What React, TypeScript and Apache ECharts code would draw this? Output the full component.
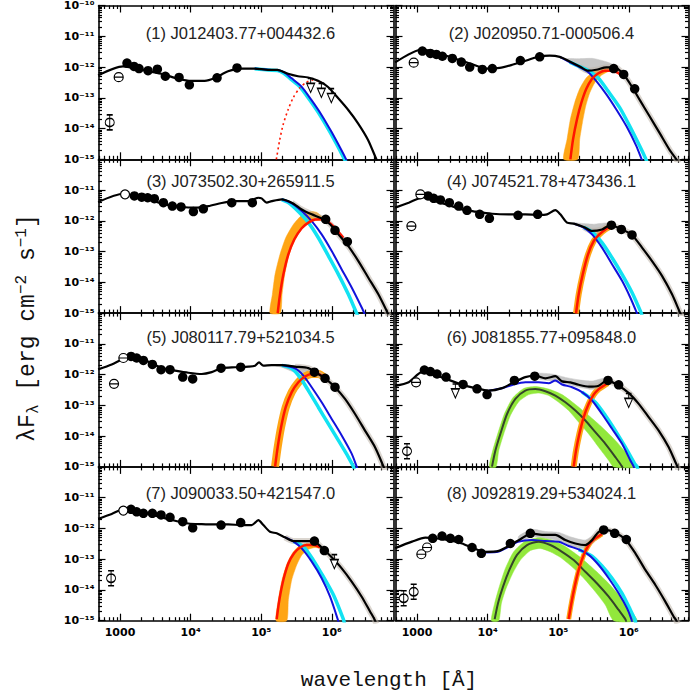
import { useEffect, useRef } from 'react';
import * as echarts from 'echarts';

// ---------- tick labels / titles ----------
const X_MAJOR = [3, 4, 5, 6];
const Y_MAJOR_TOP = [-15, -14, -13, -12, -11, -10];
const Y_MAJOR_REST = [-15, -14, -13, -12, -11];
const TITLES = [
  '(1) J012403.77+004432.6', '(2) J020950.71-000506.4',
  '(3) J073502.30+265911.5', '(4) J074521.78+473436.1',
  '(5) J080117.79+521034.5', '(6) J081855.77+095848.0',
  '(7) J090033.50+421547.0', '(8) J092819.29+534024.1',
];

// ---------- data: [log10 wavelength (Å), log10 λFλ] ----------
// Panel 1
const p1Total = [[2.69,-12.27],[3.042,-11.98],[3.349,-12.11],[3.585,-12.22],[3.822,-12.38],[4.010,-12.45],[4.199,-12.45],[4.341,-12.36],[4.530,-12.14],[4.719,-12.05],[4.907,-12.05],[5.096,-12.09],[5.229,-12.09],[5.380,-12.22],[5.521,-12.30],[5.663,-12.34],[5.805,-12.45],[5.946,-12.65],[6.088,-13.01],[6.230,-13.39],[6.371,-13.83],[6.513,-14.37],[6.631,-15.0],[6.678,-15.24]];
const p1Blue = [[4.907,-12.05],[5.096,-12.09],[5.229,-12.10],[5.33,-12.18],[5.427,-12.36],[5.568,-12.63],[5.710,-13.07],[5.852,-13.55],[5.993,-14.10],[6.135,-14.70],[6.206,-15.02],[6.22,-15.1]];
const p1Cyan = [[4.907,-12.06],[5.096,-12.10],[5.229,-12.11],[5.32,-12.20],[5.407,-12.37],[5.548,-12.64],[5.690,-13.08],[5.832,-13.56],[5.973,-14.11],[6.115,-14.71],[6.186,-15.03],[6.2,-15.1]];
const p1RedDotted = [[5.214,-15.0],[5.262,-14.37],[5.309,-13.88],[5.380,-13.39],[5.450,-13.01],[5.545,-12.68],[5.639,-12.50],[5.734,-12.42],[5.828,-12.47],[5.899,-12.59]];
const p1Dots = [[3.099,-11.87],[3.198,-11.98],[3.269,-12.05],[3.397,-12.12],[3.529,-12.07],[3.642,-12.30],[3.836,-12.34],[3.982,-12.58],[4.374,-12.35],[4.657,-12.03]];
const p1Theta = [[2.981,-12.33]];
const p1Phi = [[2.854,-13.80]];
const p1Limits = [[5.70,-12.60],[5.852,-12.76],[5.993,-12.93]];

// Panel 2
const p2Total = [[2.69,-11.85],[3.076,-11.43],[3.321,-11.57],[3.557,-11.74],[3.793,-11.92],[3.982,-12.05],[4.171,-12.03],[4.360,-11.92],[4.549,-11.79],[4.737,-11.65],[4.879,-11.63],[5.021,-11.67],[5.162,-11.82],[5.304,-11.98],[5.422,-12.12],[5.540,-12.09],[5.682,-12.01],[5.800,-12.01],[5.918,-12.22],[6.036,-12.61],[6.154,-13.07],[6.296,-13.61],[6.437,-14.15],[6.579,-14.70],[6.673,-15.0],[6.72,-15.2]];
const p2Blue = [[5.021,-11.67],[5.162,-11.84],[5.304,-12.00],[5.422,-12.16],[5.540,-12.46],[5.682,-12.89],[5.823,-13.38],[5.965,-13.92],[6.107,-14.57],[6.178,-14.98],[6.2,-15.1]];
const p2Cyan = [[5.162,-11.84],[5.304,-11.99],[5.422,-12.11],[5.564,-12.35],[5.705,-12.78],[5.871,-13.32],[6.012,-13.92],[6.154,-14.57],[6.239,-14.98],[6.26,-15.1]];
const p2Red = [[5.172,-15.0],[5.210,-14.35],[5.266,-13.70],[5.328,-13.16],[5.398,-12.71],[5.479,-12.38],[5.564,-12.21],[5.658,-12.12],[5.753,-12.12],[5.847,-12.19],[5.94,-12.35]];
const p2OrangeA = [[5.077,-15],[5.125,-14.35],[5.172,-13.70],[5.233,-13.16],[5.304,-12.71],[5.398,-12.35],[5.517,-12.13],[5.658,-12.02],[5.800,-12.02],[5.871,-12.13]];
const p2OrangeB = [[5.729,-12.13],[5.611,-12.27],[5.517,-12.51],[5.446,-12.84],[5.389,-13.27],[5.342,-13.81],[5.304,-14.35],[5.276,-15]];
const p2GrayA = [[5.115,-11.73],[5.304,-11.73],[5.493,-11.72],[5.682,-11.83],[5.823,-11.97]];
const p2GrayB = [[5.823,-12.08],[5.682,-12.08],[5.540,-12.19],[5.422,-12.21],[5.304,-12.05],[5.162,-11.86]];
const p2Dots = [[3.076,-11.48],[3.189,-11.56],[3.274,-11.59],[3.359,-11.65],[3.500,-11.72],[3.628,-11.84],[3.746,-12.00],[3.925,-12.08],[4.067,-12.05],[4.464,-11.79],[4.737,-11.67],[5.786,-12.05],[5.927,-12.24],[6.083,-12.71]];
const p2Theta = [[2.953,-11.86]];

// Panel 3
const p3Total = [[2.69,-11.39],[3.047,-11.12],[3.212,-11.19],[3.449,-11.34],[3.685,-11.49],[3.873,-11.55],[4.062,-11.57],[4.251,-11.52],[4.440,-11.42],[4.629,-11.36],[4.818,-11.36],[4.959,-11.25],[5.005,-11.27],[5.077,-11.41],[5.148,-11.36],[5.290,-11.30],[5.432,-11.41],[5.573,-11.63],[5.715,-11.79],[5.856,-11.92],[5.975,-12.11],[6.093,-12.44],[6.234,-12.82],[6.376,-13.31],[6.517,-13.85],[6.659,-14.39],[6.777,-14.93],[6.82,-15.15]];
const p3Blue = [[5.290,-11.30],[5.432,-11.43],[5.573,-11.68],[5.715,-12.01],[5.856,-12.44],[5.998,-12.98],[6.140,-13.58],[6.281,-14.17],[6.423,-14.82],[6.461,-15.01],[6.48,-15.1]];
const p3Cyan = [[5.290,-11.31],[5.384,-11.41],[5.526,-11.70],[5.668,-12.06],[5.809,-12.55],[5.951,-13.14],[6.093,-13.74],[6.234,-14.39],[6.352,-15.01],[6.37,-15.1]];
const p3Red = [[5.233,-15.0],[5.266,-14.39],[5.314,-13.74],[5.384,-13.09],[5.469,-12.60],[5.573,-12.24],[5.668,-12.06],[5.762,-11.96],[5.856,-11.95],[5.951,-12.04],[6.045,-12.24],[6.163,-12.55]];
const p3OrangeA = [[5.125,-15],[5.158,-14.39],[5.196,-13.74],[5.266,-13.09],[5.347,-12.55],[5.455,-12.12],[5.573,-11.82],[5.691,-11.70],[5.786,-11.73],[5.856,-11.86]];
const p3OrangeB = [[5.904,-11.97],[5.762,-11.99],[5.668,-12.09],[5.573,-12.27],[5.479,-12.62],[5.394,-13.10],[5.333,-13.74],[5.295,-14.39],[5.27,-15]];
const p3GrayA = [[5.337,-11.31],[5.479,-11.44],[5.620,-11.66],[5.762,-11.82],[5.904,-11.96]];
const p3GrayB = [[5.904,-12.02],[5.762,-11.93],[5.620,-11.80],[5.479,-11.55],[5.337,-11.36]];
const p3Dots = [[3.203,-11.19],[3.307,-11.23],[3.392,-11.25],[3.486,-11.28],[3.614,-11.41],[3.741,-11.52],[3.864,-11.55],[4.039,-11.70],[4.180,-11.61],[4.582,-11.41],[4.874,-11.41],[5.913,-11.95],[6.045,-12.31],[6.220,-12.68]];
const p3Open = [[3.071,-11.14]];

// Panel 4
const p4Total = [[2.69,-11.57],[2.882,-11.41],[3.094,-11.23],[3.260,-11.36],[3.449,-11.49],[3.637,-11.63],[3.826,-11.70],[4.062,-11.77],[4.298,-11.79],[4.534,-11.79],[4.723,-11.81],[4.841,-11.79],[4.959,-11.65],[5.030,-11.79],[5.125,-12.06],[5.219,-12.09],[5.361,-12.20],[5.479,-12.33],[5.620,-12.28],[5.738,-12.14],[5.904,-12.28],[6.045,-12.46],[6.187,-12.87],[6.329,-13.31],[6.470,-13.79],[6.612,-14.39],[6.730,-15.01],[6.76,-15.15]];
const p4Blue = [[5.219,-12.09],[5.361,-12.22],[5.479,-12.44],[5.620,-12.87],[5.762,-13.41],[5.904,-13.95],[6.022,-14.50],[6.116,-15.01],[6.13,-15.1]];
const p4Cyan = [[5.361,-12.21],[5.479,-12.36],[5.620,-12.71],[5.762,-13.20],[5.904,-13.74],[6.045,-14.33],[6.178,-15.01],[6.19,-15.1]];
const p4Red = [[5.252,-15.01],[5.290,-14.39],[5.347,-13.74],[5.422,-13.09],[5.502,-12.66],[5.583,-12.44],[5.668,-12.28],[5.74,-12.18]];
const p4GrayA = [[5.219,-12.06],[5.361,-12.09],[5.502,-12.11],[5.668,-12.07],[5.738,-12.10]];
const p4GrayB = [[5.738,-12.16],[5.620,-12.33],[5.479,-12.39],[5.361,-12.24],[5.219,-12.11]];
const p4Dots = [[3.156,-11.19],[3.236,-11.27],[3.331,-11.32],[3.458,-11.41],[3.590,-11.52],[3.708,-11.66],[3.888,-11.79],[4.025,-11.92],[4.431,-11.82],[4.709,-11.79],[5.753,-12.14],[5.894,-12.28],[6.045,-12.46]];
const p4Theta = [[3.047,-11.14],[2.920,-12.17]];

// Panel 5
const p5Total = [[2.69,-11.83],[2.882,-11.67],[3.047,-11.49],[3.212,-11.44],[3.401,-11.58],[3.590,-11.79],[3.779,-11.87],[3.968,-11.94],[4.157,-11.98],[4.298,-11.92],[4.440,-11.79],[4.629,-11.76],[4.818,-11.74],[4.912,-11.71],[4.969,-11.60],[5.030,-11.71],[5.148,-11.69],[5.290,-11.69],[5.479,-11.74],[5.668,-11.79],[5.762,-11.92],[5.904,-12.12],[6.045,-12.41],[6.187,-12.79],[6.329,-13.28],[6.470,-13.82],[6.612,-14.36],[6.716,-14.90],[6.754,-15.11]];
const p5Blue = [[5.290,-11.69],[5.479,-11.80],[5.597,-12.03],[5.715,-12.41],[5.856,-12.90],[5.998,-13.44],[6.140,-13.98],[6.281,-14.57],[6.352,-14.99],[6.37,-15.1]];
const p5Cyan = [[5.290,-11.70],[5.432,-11.80],[5.550,-12.09],[5.668,-12.52],[5.809,-13.06],[5.951,-13.60],[6.093,-14.14],[6.234,-14.68],[6.305,-14.99],[6.32,-15.1]];
const p5Red = [[5.196,-14.99],[5.233,-14.36],[5.281,-13.71],[5.347,-13.06],[5.432,-12.57],[5.526,-12.25],[5.620,-12.06],[5.715,-11.98],[5.809,-11.98],[5.904,-12.12]];
const p5GrayA = [[5.196,-11.67],[5.384,-11.70],[5.573,-11.76],[5.715,-11.82]];
const p5GrayB = [[5.715,-11.98],[5.573,-11.98],[5.432,-11.89],[5.290,-11.76],[5.196,-11.71]];
const p5Dots = [[3.156,-11.41],[3.236,-11.46],[3.331,-11.54],[3.458,-11.67],[3.581,-11.84],[3.708,-11.84],[3.888,-12.08],[4.029,-12.14],[4.431,-11.79],[4.709,-11.76],[5.753,-11.92],[5.904,-12.12],[6.045,-12.41]];
const p5Theta = [[3.047,-11.46],[2.915,-12.30]];

// Panel 6
const p6Total = [[2.69,-12.37],[2.882,-12.25],[3.071,-11.92],[3.260,-12.03],[3.449,-12.17],[3.637,-12.33],[3.826,-12.44],[4.015,-12.52],[4.204,-12.44],[4.369,-12.25],[4.534,-12.08],[4.676,-12.03],[4.818,-12.12],[4.959,-12.05],[5.054,-12.22],[5.172,-12.25],[5.290,-12.33],[5.432,-12.39],[5.573,-12.36],[5.691,-12.19],[5.856,-12.36],[6.000,-12.60],[6.140,-12.95],[6.281,-13.38],[6.423,-13.82],[6.565,-14.36],[6.659,-14.84],[6.687,-14.99],[6.70,-15.1]];
const p6Blue = [[4.015,-12.52],[4.204,-12.44],[4.369,-12.32],[4.534,-12.25],[4.723,-12.25],[4.865,-12.28],[4.959,-12.19],[5.054,-12.32],[5.196,-12.41],[5.337,-12.57],[5.479,-12.84],[5.620,-13.28],[5.762,-13.76],[5.904,-14.25],[6.022,-14.79],[6.069,-14.99],[6.08,-15.1]];
const p6Cyan = [[5.337,-12.57],[5.526,-12.90],[5.668,-13.33],[5.809,-13.82],[5.951,-14.36],[6.083,-14.90],[6.116,-14.99],[6.13,-15.1]];
const p6GreenMid = [[4.062,-14.99],[4.110,-14.47],[4.180,-13.93],[4.275,-13.28],[4.393,-12.79],[4.534,-12.52],[4.676,-12.47],[4.818,-12.54],[4.959,-12.68],[5.101,-12.90],[5.243,-13.17],[5.384,-13.49],[5.526,-13.87],[5.668,-14.25],[5.809,-14.68],[5.904,-14.99],[5.92,-15.1]];
const p6GreenA = [[4.025,-15],[4.072,-14.47],[4.142,-13.93],[4.237,-13.28],[4.355,-12.76],[4.511,-12.45],[4.676,-12.39],[4.865,-12.47],[5.054,-12.65],[5.243,-12.97],[5.432,-13.33],[5.620,-13.71],[5.809,-14.14],[5.975,-14.58],[6.116,-15]];
const p6GreenB = [[5.786,-15],[5.715,-14.79],[5.573,-14.36],[5.432,-13.93],[5.290,-13.55],[5.148,-13.17],[5.007,-12.90],[4.865,-12.68],[4.723,-12.60],[4.582,-12.65],[4.440,-12.88],[4.322,-13.33],[4.228,-13.93],[4.157,-14.47],[4.119,-15]];
const p6Red = [[5.219,-14.99],[5.252,-14.47],[5.299,-13.93],[5.361,-13.38],[5.432,-12.95],[5.502,-12.65],[5.573,-12.47],[5.644,-12.36],[5.70,-12.28]];
const p6GrayA = [[4.676,-11.96],[4.912,-11.98],[5.101,-12.09],[5.290,-12.17],[5.479,-12.21],[5.668,-12.11]];
const p6GrayB = [[5.668,-12.32],[5.479,-12.47],[5.290,-12.41],[5.101,-12.30],[4.912,-12.21],[4.676,-12.12]];
const p6Dots = [[3.104,-11.85],[3.189,-11.90],[3.283,-11.98],[3.411,-12.08],[3.652,-12.32],[3.850,-12.46],[3.992,-12.65],[4.379,-12.19],[4.667,-12.05],[5.705,-12.19],[5.856,-12.33]];
const p6Theta = [[2.986,-12.25]];
const p6Limits = [[3.543,-12.53],[5.998,-12.84]];
const p6Phi = [[2.858,-14.49]];

// Panel 7
const p7Total = [[2.69,-11.69],[2.882,-11.53],[3.047,-11.38],[3.212,-11.40],[3.401,-11.51],[3.590,-11.64],[3.779,-11.75],[3.968,-11.84],[4.157,-11.86],[4.346,-11.87],[4.534,-11.87],[4.723,-11.89],[4.865,-11.89],[4.959,-11.73],[5.030,-11.89],[5.125,-12.11],[5.219,-12.16],[5.337,-12.29],[5.455,-12.41],[5.597,-12.41],[5.738,-12.41],[5.856,-12.62],[5.998,-12.94],[6.140,-13.30],[6.281,-13.73],[6.423,-14.22],[6.541,-14.70],[6.603,-14.95],[6.63,-15.1]];
const p7Blue = [[5.337,-12.29],[5.455,-12.42],[5.573,-12.65],[5.715,-13.08],[5.856,-13.62],[5.975,-14.22],[6.083,-14.95],[6.10,-15.1]];
const p7Cyan = [[5.455,-12.42],[5.597,-12.59],[5.738,-13.03],[5.880,-13.57],[6.022,-14.16],[6.163,-14.95],[6.18,-15.1]];
const p7Red = [[5.219,-14.95],[5.257,-14.32],[5.314,-13.67],[5.384,-13.14],[5.465,-12.81],[5.550,-12.62],[5.644,-12.54],[5.738,-12.54],[5.833,-12.62]];
const p7OrangeA = [[5.210,-15],[5.243,-14.32],[5.295,-13.67],[5.366,-13.14],[5.446,-12.79],[5.535,-12.57],[5.630,-12.49],[5.738,-12.49],[5.833,-12.57]];
const p7OrangeB = [[5.856,-12.65],[5.762,-12.62],[5.668,-12.68],[5.573,-12.87],[5.502,-13.19],[5.432,-13.67],[5.384,-14.32],[5.361,-15]];
const p7Dots = [[3.156,-11.38],[3.236,-11.46],[3.331,-11.51],[3.458,-11.51],[3.581,-11.56],[3.708,-11.64],[3.888,-11.78],[4.029,-11.98],[4.431,-11.89],[4.709,-11.81],[5.753,-12.41],[5.894,-12.72]];
const p7Open = [[3.047,-11.42]];
const p7Phi = [[2.873,-13.62]];
const p7Limits = [[6.036,-13.08]];

// Panel 8
const p8Total = [[2.69,-12.64],[2.929,-12.43],[3.118,-12.30],[3.260,-12.32],[3.449,-12.38],[3.637,-12.49],[3.803,-12.65],[3.968,-12.76],[4.157,-12.73],[4.322,-12.54],[4.464,-12.35],[4.619,-12.16],[4.771,-12.21],[4.959,-12.21],[5.101,-12.38],[5.243,-12.49],[5.384,-12.54],[5.479,-12.38],[5.573,-12.11],[5.668,-12.05],[5.809,-12.14],[5.951,-12.36],[6.093,-12.81],[6.234,-13.35],[6.376,-13.84],[6.517,-14.38],[6.636,-14.87],[6.669,-14.98],[6.69,-15.1]];
const p8Blue = [[3.968,-12.78],[4.157,-12.75],[4.322,-12.57],[4.440,-12.43],[4.629,-12.38],[4.818,-12.41],[5.007,-12.43],[5.148,-12.57],[5.290,-12.68],[5.432,-12.86],[5.573,-13.19],[5.715,-13.62],[5.856,-14.11],[5.975,-14.60],[6.036,-14.95],[6.05,-15.1]];
const p8Cyan = [[5.290,-12.69],[5.479,-12.90],[5.620,-13.22],[5.762,-13.62],[5.904,-14.11],[6.022,-14.65],[6.083,-14.95],[6.10,-15.1]];
const p8GreenMid = [[4.100,-14.95],[4.147,-14.43],[4.218,-13.89],[4.308,-13.35],[4.416,-12.86],[4.558,-12.54],[4.723,-12.43],[4.888,-12.54],[5.054,-12.76],[5.219,-13.03],[5.384,-13.41],[5.550,-13.79],[5.715,-14.22],[5.856,-14.65],[5.951,-14.95],[5.97,-15.1]];
const p8GreenA = [[4.053,-15],[4.100,-14.43],[4.166,-13.89],[4.251,-13.30],[4.369,-12.76],[4.534,-12.41],[4.723,-12.30],[4.912,-12.38],[5.101,-12.59],[5.290,-12.90],[5.479,-13.27],[5.668,-13.68],[5.856,-14.16],[6.022,-14.65],[6.116,-15]];
const p8GreenB = [[5.786,-15],[5.668,-14.49],[5.526,-14.06],[5.361,-13.62],[5.196,-13.25],[5.030,-12.94],[4.888,-12.76],[4.747,-12.65],[4.605,-12.72],[4.464,-13.03],[4.355,-13.46],[4.261,-13.95],[4.195,-14.43],[4.157,-15]];
const p8Red = [[5.148,-14.95],[5.186,-14.43],[5.233,-13.89],[5.290,-13.35],[5.361,-12.86],[5.432,-12.54],[5.502,-12.36],[5.573,-12.25],[5.62,-12.18]];
const p8GrayA = [[4.440,-12.25],[4.629,-12.03],[4.818,-12.10],[5.007,-12.13],[5.196,-12.29],[5.384,-12.38],[5.526,-12.18]];
const p8GrayB = [[5.526,-12.36],[5.384,-12.65],[5.196,-12.59],[5.007,-12.40],[4.818,-12.32],[4.629,-12.27],[4.440,-12.46]];
const p8Dots = [[3.222,-12.32],[3.354,-12.25],[3.472,-12.32],[3.590,-12.36],[3.779,-12.62],[3.911,-12.81],[4.322,-12.49],[4.605,-12.16],[5.644,-12.05],[5.800,-12.16],[5.965,-12.36]];
const p8Theta = [[3.142,-12.62],[3.061,-12.84]];
const p8Phi = [[2.811,-14.27],[2.953,-14.06]];

type Pt = number[];
interface Panel {
  total: Pt[]; blue: Pt[]; cyan: Pt[];
  red?: Pt[]; redDotted?: Pt[];
  orangeA?: Pt[]; orangeB?: Pt[]; orangeLine?: number;
  grayA?: Pt[]; grayB?: Pt[];
  greenA?: Pt[]; greenB?: Pt[]; greenMid?: Pt[];
  dots: Pt[]; theta?: Pt[]; phi?: Pt[]; open?: Pt[]; limits?: Pt[];
  halo: boolean;
}

const PANELS: Panel[] = [
  { total: p1Total, blue: p1Blue, cyan: p1Cyan, redDotted: p1RedDotted, dots: p1Dots, theta: p1Theta, phi: p1Phi, limits: p1Limits, halo: false },
  { total: p2Total, blue: p2Blue, cyan: p2Cyan, red: p2Red, orangeA: p2OrangeA, orangeB: p2OrangeB, grayA: p2GrayA, grayB: p2GrayB, dots: p2Dots, theta: p2Theta, halo: true },
  { total: p3Total, blue: p3Blue, cyan: p3Cyan, red: p3Red, orangeA: p3OrangeA, orangeB: p3OrangeB, grayA: p3GrayA, grayB: p3GrayB, dots: p3Dots, open: p3Open, halo: true },
  { total: p4Total, blue: p4Blue, cyan: p4Cyan, red: p4Red, orangeLine: 6, grayA: p4GrayA, grayB: p4GrayB, dots: p4Dots, theta: p4Theta, halo: true },
  { total: p5Total, blue: p5Blue, cyan: p5Cyan, red: p5Red, orangeLine: 8, grayA: p5GrayA, grayB: p5GrayB, dots: p5Dots, theta: p5Theta, halo: true },
  { total: p6Total, blue: p6Blue, cyan: p6Cyan, red: p6Red, orangeLine: 6, grayA: p6GrayA, grayB: p6GrayB, greenA: p6GreenA, greenB: p6GreenB, greenMid: p6GreenMid, dots: p6Dots, theta: p6Theta, phi: p6Phi, limits: p6Limits, halo: true },
  { total: p7Total, blue: p7Blue, cyan: p7Cyan, red: p7Red, orangeA: p7OrangeA, orangeB: p7OrangeB, dots: p7Dots, open: p7Open, phi: p7Phi, limits: p7Limits, halo: true },
  { total: p8Total, blue: p8Blue, cyan: p8Cyan, red: p8Red, orangeLine: 5, grayA: p8GrayA, grayB: p8GrayB, greenA: p8GreenA, greenB: p8GreenB, greenMid: p8GreenMid, dots: p8Dots, theta: p8Theta, phi: p8Phi, halo: true },
];

// ---------- layout / style ----------
const XMIN = 2.695;
const PX_PER_DEC = 70.6;
const COL_LEFT = [98.5, 395.5];
const COL_WIDTH = [295, 293];
const ROW_TOP0 = 5.5;
const ROW_H = 153.8;
const TITLE_X = [240.5, 541.5];
const TITLE_Y = [33, 181, 336.5, 493];

const C_BLUE = '#1212dc';
const C_CYAN = '#12e2f2';
const C_RED = '#ff1500';
const C_ORANGE = '#ffa514';
const C_GREEN = '#92e83c';
const C_GREEN_MID = '#34442a';
const C_GRAY = '#c6c6c6';

const SUP: Record<string, string> = { '-': '⁻', '0': '⁰', '1': '¹', '2': '²', '3': '³', '4': '⁴', '5': '⁵', '6': '⁶', '7': '⁷', '8': '⁸', '9': '⁹' };
const sup = (n: number) => String(n).split('').map((c) => SUP[c]).join('');

const minorList = (d0: number, d1: number, lo: number, hi: number) => {
  const out: number[] = [];
  for (let d = d0; d <= d1; d++) for (let k = 2; k <= 9; k++) {
    const v = d + Math.log10(k);
    if (v > lo && v < hi) out.push(v);
  }
  return out;
};

const SYM_THETA = 'path://M0,5A5,5,0,1,1,10,5A5,5,0,1,1,0,5ZM0,5L10,5';
const SYM_PHI = 'path://M1,8A4.5,4.5,0,1,1,10,8A4.5,4.5,0,1,1,1,8ZM5.5,0L5.5,16M2.5,0L8.5,0M2.5,16L8.5,16';
const SYM_LIMIT = 'path://M0,6L10,6L5,17ZM5,6L5,0M1.5,0L8.5,0';
const OPEN_STYLE = { color: '#ffffff', borderColor: '#000000', borderWidth: 1.2, opacity: 1 };
const LABEL_FONT = { fontFamily: 'DejaVu Sans', fontWeight: 'bold' as const, fontSize: 11, color: '#000' };

function buildOption() {
  const grid: any[] = [];
  const xAxis: any[] = [];
  const yAxis: any[] = [];
  const series: any[] = [];
  const graphic: any[] = [];

  PANELS.forEach((p, i) => {
    const col = i % 2;
    const row = Math.floor(i / 2);
    const width = COL_WIDTH[col];
    const xmax = XMIN + width / PX_PER_DEC;
    grid.push({ left: COL_LEFT[col], top: ROW_TOP0 + row * ROW_H, width, height: ROW_H, containLabel: false, outerBoundsMode: 'none' });

    const xMinor = minorList(2, 6, XMIN, xmax);
    const yMinor = minorList(-15, -11, -15, -10);
    const tickStyle = { color: '#000', width: 1.2 };
    const axisLineOn = { show: true, onZero: false, lineStyle: { color: '#000', width: 1.6 } };
    const axisLineOff = { show: false, onZero: false };

    const xBase = { gridIndex: i, type: 'value', min: XMIN, max: xmax, splitLine: { show: false } };
    const showX = row === 3;
    ['bottom', 'top'].forEach((pos) => {
      xAxis.push({
        ...xBase, position: pos, axisLine: axisLineOn,
        axisTick: { show: true, inside: true, length: 7, customValues: X_MAJOR, lineStyle: tickStyle },
        axisLabel: pos === 'bottom' && showX ? {
          show: true, customValues: X_MAJOR, margin: 6, ...LABEL_FONT,
          formatter: (v: number) => (Math.round(v) === 3 ? '1000' : '10' + sup(Math.round(v))),
        } : { show: false },
      });
      xAxis.push({
        ...xBase, position: pos, axisLine: axisLineOff,
        axisTick: { show: true, inside: true, length: 3.5, customValues: xMinor, lineStyle: tickStyle },
        axisLabel: { show: false },
      });
    });

    const yBase = { gridIndex: i, type: 'value', min: -15, max: -10, splitLine: { show: false } };
    const yLabels = row === 0 ? Y_MAJOR_TOP : Y_MAJOR_REST;
    ['left', 'right'].forEach((pos) => {
      yAxis.push({
        ...yBase, position: pos, axisLine: axisLineOn,
        axisTick: { show: true, inside: true, length: 7, customValues: Y_MAJOR_TOP, lineStyle: tickStyle },
        axisLabel: pos === 'left' && col === 0 ? {
          show: true, customValues: yLabels, margin: 4, ...LABEL_FONT,
          formatter: (v: number) => '10' + sup(Math.round(v)),
        } : { show: false },
      });
      yAxis.push({
        ...yBase, position: pos, axisLine: axisLineOff,
        axisTick: { show: true, inside: true, length: 3.5, customValues: yMinor, lineStyle: tickStyle },
        axisLabel: { show: false },
      });
    });

    const ax = { xAxisIndex: i * 4, yAxisIndex: i * 4 };
    const clampPt = (q: Pt) => [Math.min(xmax, Math.max(XMIN, q[0])), Math.min(-10, Math.max(-15, q[1]))];
    const band = (a: Pt[], b: Pt[], color: string, z: number) => {
      const pts = a.concat(b).map(clampPt);
      return {
        type: 'custom', ...ax, silent: true, z, data: [pts[0]],
        renderItem: (_params: any, api: any) => ({
          type: 'polygon',
          shape: { points: pts.map((q) => api.coord(q)), smooth: 0.2 },
          style: { fill: color, stroke: color, lineWidth: 0.5 },
        }),
      };
    };
    const line = (data: Pt[], color: string, width: number, z: number, extra: any = {}) => ({
      type: 'line', ...ax, data, showSymbol: false, symbol: 'none', smooth: 0.25, silent: true, z,
      lineStyle: { color, width, opacity: 1, ...(extra.lineStyle || {}) }, clip: true,
    });
    const scatter = (data: Pt[], symbol: string, size: any, itemStyle: any, z: number) => ({
      type: 'scatter', ...ax, data, symbol, symbolSize: size, itemStyle, silent: true, z,
    });

    if (p.grayA && p.grayB) series.push(band(p.grayA, p.grayB, C_GRAY, 1));
    if (p.greenA && p.greenB) series.push(band(p.greenA, p.greenB, C_GREEN, 2));
    if (p.orangeA && p.orangeB) series.push(band(p.orangeA, p.orangeB, C_ORANGE, 3));
    if (p.orangeLine && p.red) series.push(line(p.red, C_ORANGE, p.orangeLine, 3));
    if (p.halo) series.push(line(p.total.filter((q) => q[0] >= 5.3), 'rgba(190,180,170,0.55)', 6, 4));
    series.push(line(p.cyan, C_CYAN, 3.5, 5));
    series.push(line(p.blue, C_BLUE, 2, 6));
    if (p.greenMid) series.push(line(p.greenMid, C_GREEN_MID, 2, 7));
    if (p.red) series.push(line(p.red, C_RED, 2.5, 8));
    if (p.redDotted) series.push(line(p.redDotted, C_RED, 1.6, 8, { lineStyle: { type: [2, 3] } }));
    series.push(line(p.total, '#000', 2.2, 9));
    series.push(scatter(p.dots, 'circle', 9.5, { color: '#000', opacity: 1 }, 10));
    if (p.theta) series.push(scatter(p.theta, SYM_THETA, [9, 9], OPEN_STYLE, 11));
    if (p.open) series.push(scatter(p.open, 'circle', 9, OPEN_STYLE, 11));
    if (p.phi) series.push(scatter(p.phi, SYM_PHI, [9, 15], OPEN_STYLE, 11));
    if (p.limits) series.push(scatter(p.limits, SYM_LIMIT, [8, 14], OPEN_STYLE, 11));

    graphic.push({
      type: 'text', x: TITLE_X[col], y: TITLE_Y[row], silent: true, z: 20,
      style: { text: TITLES[i], align: 'center', verticalAlign: 'middle', fill: '#222', fontFamily: 'Liberation Sans', fontSize: 16.5 },
    });
  });

  graphic.push({
    type: 'text', x: 389, y: 680, silent: true,
    style: { text: 'wavelength [Å]', align: 'center', verticalAlign: 'middle', fill: '#111', fontFamily: 'Liberation Mono', fontSize: 21 },
  });
  graphic.push({
    type: 'text', x: 28, y: 328, rotation: Math.PI / 2, silent: true,
    style: {
      text: '{m|λF}{sb|λ}{m| [erg cm}{sp|−2}{m| s}{sp|−1}{m|]}',
      align: 'center', verticalAlign: 'middle', fill: '#111',
      rich: {
        m: { fontFamily: 'Liberation Mono', fontSize: 23, lineHeight: 28, fill: '#111' },
        sb: { fontFamily: 'Liberation Mono', fontSize: 16, lineHeight: 16, verticalAlign: 'bottom', fill: '#111' },
        sp: { fontFamily: 'Liberation Mono', fontSize: 16, lineHeight: 16, verticalAlign: 'top', fill: '#111' },
      },
    },
  });

  return { animation: false, backgroundColor: '#fff', grid, xAxis, yAxis, series, graphic };
}

export default function App() {
  const ref = useRef<HTMLDivElement>(null);
  useEffect(() => {
    if (!ref.current) return;
    const chart = echarts.init(ref.current, undefined, { renderer: 'svg' });
    chart.setOption(buildOption() as any);
    return () => chart.dispose();
  }, []);
  return <div ref={ref} style={{ position: 'fixed', left: 0, top: 0, width: 693, height: 693, background: '#fff' }} />;
}
